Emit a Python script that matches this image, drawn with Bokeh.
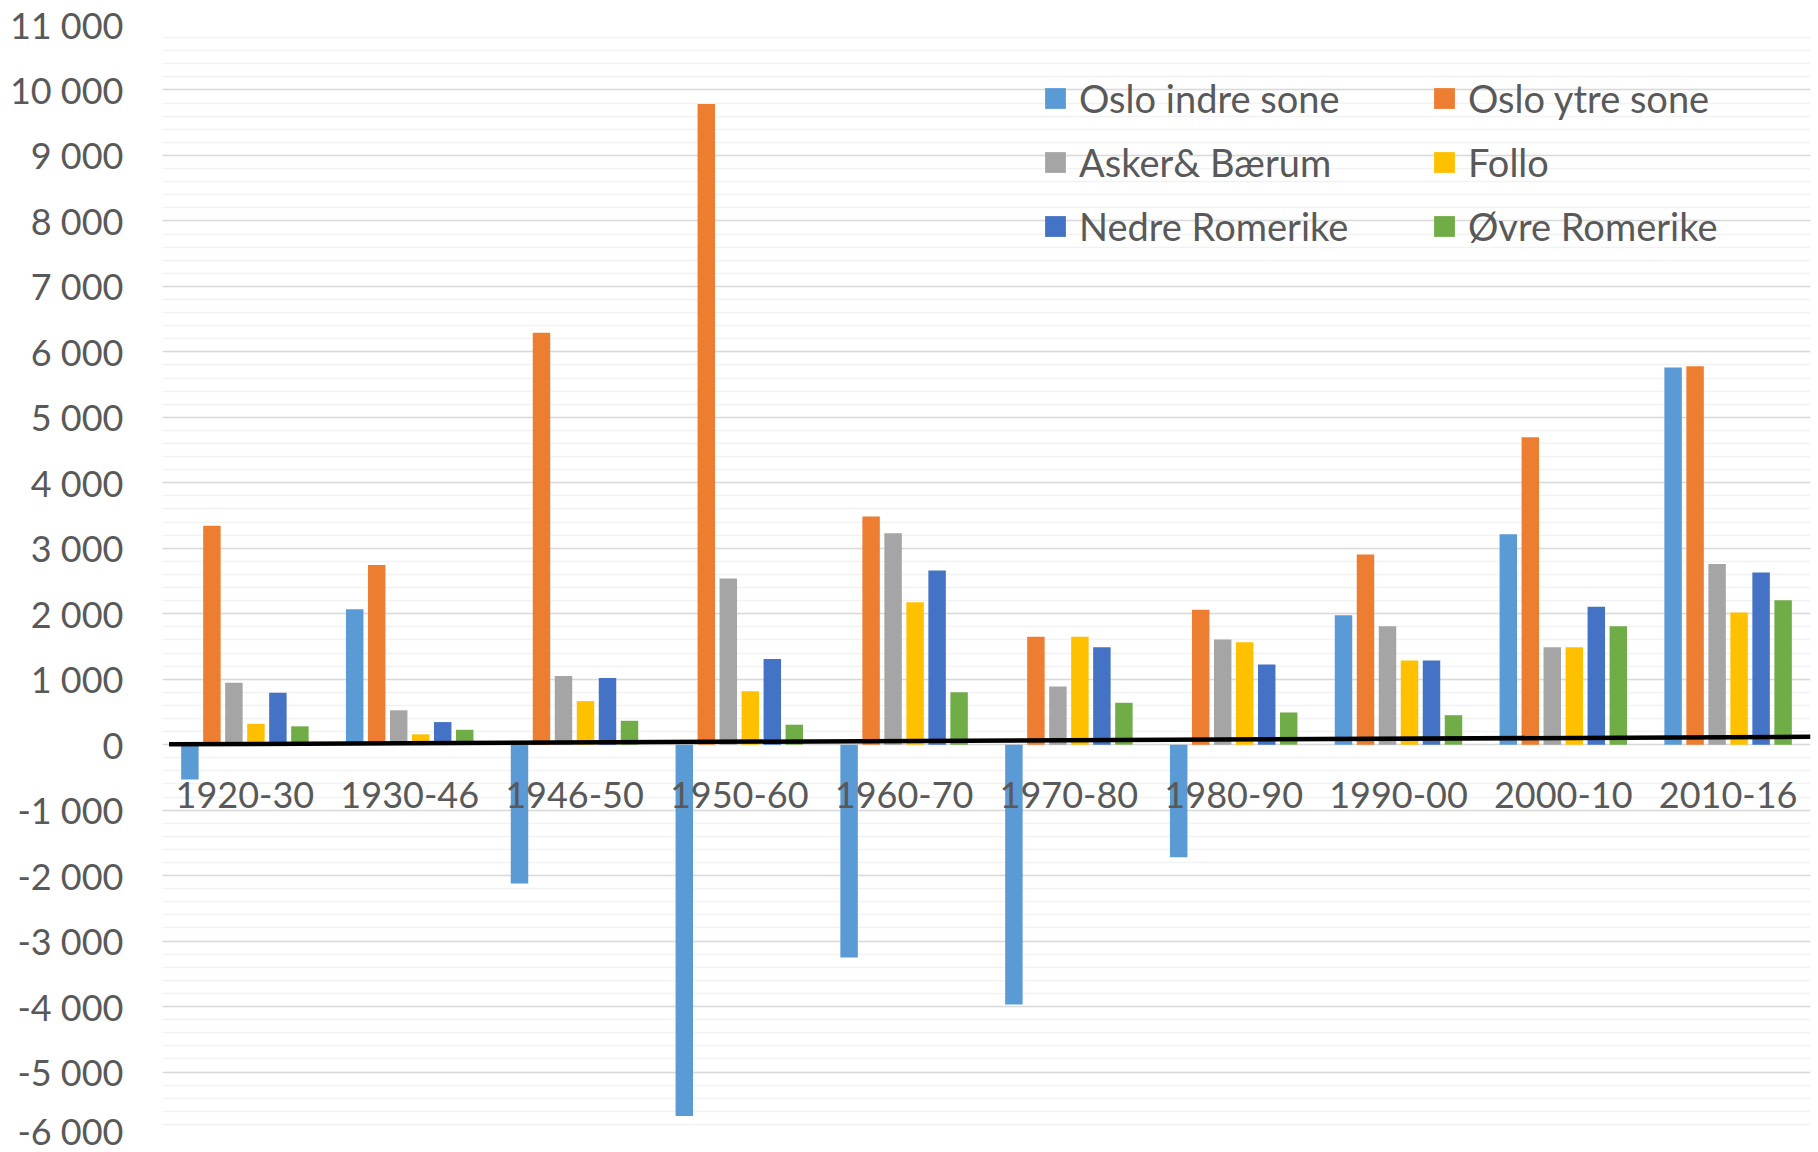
from bokeh.plotting import figure
from bokeh.models import (ColumnDataSource, FactorRange, Legend, LegendItem,
                          SingleIntervalTicker, Range1d)
from bokeh.transform import dodge
from bokeh.core.properties import value
from bokeh.embed import file_html
from bokeh.resources import INLINE

categories = ["1920-30", "1930-46", "1946-50", "1950-60", "1960-70",
              "1970-80", "1980-90", "1990-00", "2000-10", "2010-16"]
oslo_indre = [-530, 2070, -2120, -5670, -3250, -3970, -1720, 1975, 3215, 5760]
oslo_ytre = [3345, 2745, 6290, 9785, 3485, 1650, 2060, 2905, 4695, 5780]
asker_baerum = [945, 525, 1050, 2540, 3230, 890, 1605, 1810, 1490, 2760]
follo = [320, 158, 665, 815, 2175, 1650, 1565, 1285, 1490, 2020]
nedre_romerike = [795, 345, 1020, 1310, 2660, 1490, 1225, 1285, 2105, 2630]
ovre_romerike = [280, 228, 365, 305, 800, 640, 492, 450, 1810, 2205]

series_names = ["Oslo indre sone", "Oslo ytre sone", "Asker& Bærum",
                "Follo", "Nedre Romerike", "Øvre Romerike"]
series_keys = ["indre", "ytre", "asker", "follo", "nedre", "ovre"]
colors = ["#5B9BD5", "#ED7D31", "#A5A5A5", "#FFC000", "#4472C4", "#70AD47"]

y_ticks = list(range(-6000, 11001, 1000))
y_labels = {v: f"{v:,}".replace(",", " ") for v in y_ticks}

# hand-drawn black line across the zero level (annotation)
trend_x = [0.04, 10.0]
trend_y = [5, 120]

src = ColumnDataSource(dict(cat=categories, indre=oslo_indre, ytre=oslo_ytre,
                            asker=asker_baerum, follo=follo,
                            nedre=nedre_romerike, ovre=ovre_romerike))

FONT = "Lato"
TXT = "#595959"

p = figure(width=1818, height=1152,
           x_range=FactorRange(factors=categories, range_padding=0),
           y_range=Range1d(-6000, 11000),
           output_backend="svg", toolbar_location=None,
           x_axis_location=None,
           min_border_left=162, min_border_right=8,
           min_border_top=24, min_border_bottom=15)
p.outline_line_color = None
p.background_fill_color = "white"

ax = p.yaxis[0]
ax.ticker = SingleIntervalTicker(interval=1000, num_minor_ticks=5)
ax.major_label_overrides = y_labels
ax.axis_line_color = None
ax.major_tick_line_color = None
ax.minor_tick_line_color = None
ax.major_tick_out = 0
ax.minor_tick_out = 0
ax.major_tick_in = 0
ax.minor_tick_in = 0
ax.major_label_standoff = 39
ax.major_label_text_font = FONT
ax.major_label_text_font_size = "36px"
ax.major_label_text_color = TXT

p.xgrid.visible = False
p.ygrid.grid_line_color = "#d9d9d9"
p.ygrid.grid_line_width = 1.3
p.ygrid.minor_grid_line_color = "#f2f2f2"
p.ygrid.minor_grid_line_width = 1.3

pitch = 0.1335
renderers = []
for i, (k, c) in enumerate(zip(series_keys, colors)):
    r = p.vbar(x=dodge("cat", (i - 2.5) * pitch, range=p.x_range), top=k,
               width=0.106, source=src, fill_color=c, line_color=None)
    renderers.append(r)

p.text(x="cat", y=0, text="cat", source=src, text_align="center",
       text_baseline="middle", y_offset=50, text_font=value(FONT),
       text_font_size="36px", text_color=TXT)

p.line(x=trend_x, y=trend_y, line_color="black", line_width=4.5)

def make_legend(idx, xloc):
    lg = Legend(items=[LegendItem(label=series_names[j], renderers=[renderers[j]]) for j in idx],
                location=(xloc, 888), orientation="vertical",
                label_text_font=FONT, label_text_font_size="38px",
                label_text_color=TXT, glyph_width=26, glyph_height=26,
                label_standoff=11, spacing=18, padding=0, margin=0,
                border_line_color=None, background_fill_alpha=0)
    return lg

p.add_layout(make_legend([0, 2, 4], 880))
p.add_layout(make_legend([1, 3, 5], 1269))

open("out.html", "w").write(file_html(p, INLINE))
